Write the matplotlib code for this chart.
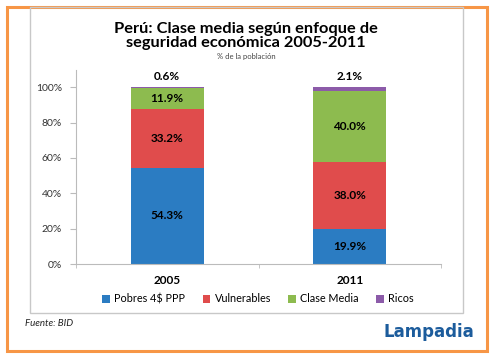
import matplotlib
matplotlib.use("Agg")
import matplotlib.pyplot as plt
from matplotlib.patches import Rectangle
import numpy as np

plt.rcParams['font.family'] = ['Lato', 'DejaVu Sans']

years = ["2005", "2011"]
series_names = ["Pobres 4$ PPP", "Vulnerables", "Clase Media", "Ricos"]
pobres = [54.3, 19.9]
vulnerables = [33.2, 38.0]
clase_media = [11.9, 40.0]
ricos = [0.6, 2.1]
yticks = [0, 20, 40, 60, 80, 100]
colors = ["#2B7CC2", "#E04C4C", "#8DBB4F", "#8C5BA9"]

fig = plt.figure(figsize=(4.95, 3.54), dpi=100)
W, H = 495, 354

def fx(x): return x / W
def fy(y): return 1 - y / H

# orange outer border
fig.patches.append(Rectangle((fx(7), fy(351)), fx(480), (344) / H, transform=fig.transFigure,
                             fill=False, edgecolor="#F79646", linewidth=2.2))
# inner chart frame
fig.patches.append(Rectangle((fx(30), fy(313)), fx(433), (306) / H, transform=fig.transFigure,
                             fill=False, edgecolor="#C8C8C8", linewidth=1.0))

ax = fig.add_axes([fx(76), fy(264), fx(365), (264 - 69.5) / H])
x = np.arange(len(years))
series = [pobres, vulnerables, clase_media, ricos]
bottom = np.zeros(len(years))
for i, (vals, c) in enumerate(zip(series, colors)):
    vals = np.array(vals) / 100.0
    ax.bar(x, vals, 0.4, bottom=bottom, color=c, label=series_names[i], zorder=2)
    for j, v in enumerate(vals):
        if i < 3:
            ax.text(x[j], bottom[j] + v / 2, f"{series[i][j]:.1f}%", ha="center", va="center",
                    fontsize=8.5, fontweight="bold", color="black")
        else:
            ax.text(x[j], bottom[j] + v + 0.03, f"{series[i][j]:.1f}%", ha="center", va="bottom",
                    fontsize=8.5, fontweight="bold", color="black")
    bottom = bottom + vals

ax.set_xlim(-0.5, 1.5)
ax.set_ylim(0, 1.1)
ax.set_yticks([t / 100 for t in yticks])
ax.set_yticklabels([f"{t}%" for t in yticks], fontsize=7.5, color="#333333")
ax.set_xticks(x)
ax.set_xticklabels(years, fontsize=8.5, fontweight="bold")
ax.tick_params(axis="x", length=0, pad=8)
ax.set_xticks([-0.5, 0.5, 1.5], minor=True)
ax.tick_params(axis="x", which="minor", length=3, color="#BBBBBB")
ax.tick_params(axis="y", length=4, color="#BBBBBB", pad=6)
for s in ["top", "right"]:
    ax.spines[s].set_visible(False)
for s in ["left", "bottom"]:
    ax.spines[s].set_color("#BBBBBB")
    ax.spines[s].set_linewidth(0.8)

handles, labels = ax.get_legend_handles_labels()
fig.legend(handles, labels, loc="center", bbox_to_anchor=(fx(258), fy(299)), ncol=4,
           frameon=False, fontsize=7.8, handlelength=0.7, handleheight=0.7,
           columnspacing=1.6, handletextpad=0.4)

fig.text(fx(246), fy(36), "Perú: Clase media según enfoque de\nseguridad económica 2005-2011",
         ha="center", va="center", fontsize=11.8, fontweight="bold", linespacing=1.05)
fig.text(fx(246), fy(57), "% de la población", ha="center", va="center", fontsize=5.5, color="#444444")
fig.text(fx(25), fy(324), "Fuente: BID", ha="left", va="center", fontsize=7, style="italic", color="#222222")
fig.text(fx(474), fy(332), "Lampadia", ha="right", va="center", fontsize=12, fontweight="bold",
         color="#1C5C9C", family=["DejaVu Sans"])

fig.savefig("out.png", dpi=100)
